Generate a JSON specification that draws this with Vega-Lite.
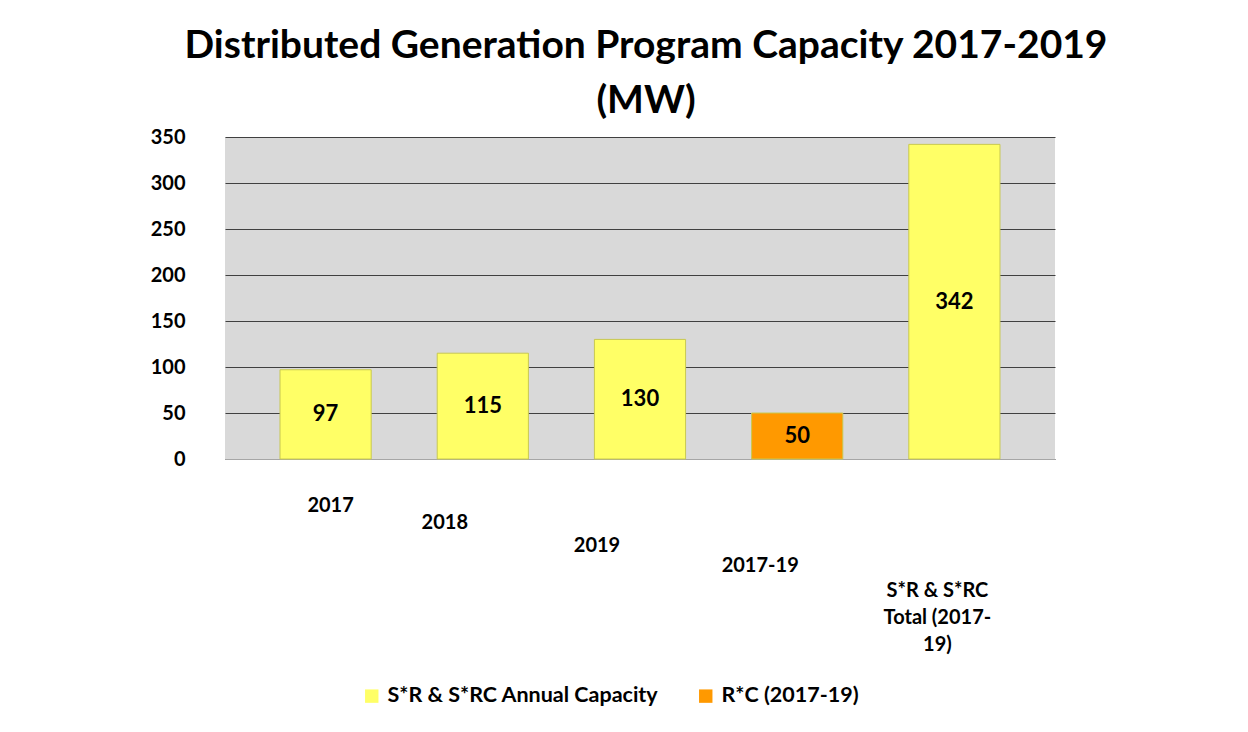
{
  "$schema": "https://vega.github.io/schema/vega-lite/v6.json",
  "width": 830,
  "height": 322,
  "padding": {"left": 150, "top": 27, "right": 20, "bottom": 10},
  "background": "white",
  "title": {
    "text": ["Distributed Generation Program Capacity 2017-2019", "(MW)"],
    "font": "Lato",
    "fontSize": 39,
    "fontWeight": "bold",
    "color": "black",
    "lineHeight": 55,
    "offset": 6,
    "anchor": "middle",
    "frame": "group",
    "dx": 6
  },
  "data": {
    "values": [
      {"category": "2017", "value": 97, "series": "S*R & S*RC Annual Capacity"},
      {"category": "2018", "value": 115, "series": "S*R & S*RC Annual Capacity"},
      {"category": "2019", "value": 130, "series": "S*R & S*RC Annual Capacity"},
      {"category": "2017-19", "value": 50, "series": "R*C (2017-19)"},
      {"category": "S*R & S*RC Total (2017-19)", "value": 342, "series": "S*R & S*RC Annual Capacity"}
    ]
  },
  "encoding": {
    "x": {
      "field": "category",
      "type": "nominal",
      "sort": null,
      "scale": {"paddingInner": 0.42, "paddingOuter": 0.35},
      "axis": {
        "title": null,
        "labelAngle": 0,
        "labelFont": "Lato",
        "labelFontSize": 20,
        "labelFontWeight": "bold",
        "labelColor": "black",
        "labelLineHeight": 27,
        "ticks": false,
        "domainColor": "#a6a6a6",
        "labelExpr": "datum.value == 'S*R & S*RC Total (2017-19)' ? ['S*R & S*RC', 'Total (2017-', '19)'] : datum.value",
        "labelPadding": {
          "condition": [
            {"test": "datum.value == '2018'", "value": 53},
            {"test": "datum.value == '2019'", "value": 76},
            {"test": "datum.value == '2017-19'", "value": 96},
            {"test": "datum.value == 'S*R & S*RC Total (2017-19)'", "value": 121}
          ],
          "value": 36
        },
        "labelOffset": {
          "condition": [
            {"test": "datum.value == '2017'", "value": 5},
            {"test": "datum.value == '2018'", "value": -38},
            {"test": "datum.value == '2019'", "value": -43},
            {"test": "datum.value == '2017-19'", "value": -37}
          ],
          "value": -17
        }
      }
    }
  },
  "layer": [
    {
      "mark": {"type": "bar", "stroke": "#c8c850", "strokeWidth": 1},
      "encoding": {
        "y": {
          "field": "value",
          "type": "quantitative",
          "scale": {"domain": [0, 350]},
          "axis": {
            "title": null,
            "values": [0, 50, 100, 150, 200, 250, 300, 350],
            "labelFont": "Lato",
            "labelFontSize": 20,
            "labelFontWeight": "bold",
            "labelColor": "black",
            "labelPadding": 40,
            "ticks": false,
            "domain": false,
            "gridColor": "#404040",
            "gridWidth": 1.2
          }
        },
        "color": {
          "field": "series",
          "type": "nominal",
          "scale": {
            "domain": ["S*R & S*RC Annual Capacity", "R*C (2017-19)"],
            "range": ["#ffff66", "#ff9900"]
          },
          "legend": {
            "title": null,
            "orient": "none",
            "legendX": 136,
            "legendY": 548,
            "direction": "horizontal",
            "symbolType": "square",
            "symbolSize": 180,
            "symbolStrokeWidth": 0,
            "labelFont": "Lato",
            "labelFontSize": 21.5,
            "labelFontWeight": "bold",
            "labelColor": "black",
            "labelOffset": 5,
            "columnPadding": 36,
            "labelLimit": 400
          }
        }
      }
    },
    {
      "mark": {"type": "text", "font": "Lato", "fontSize": 22, "fontWeight": "bold", "color": "black", "baseline": "middle"},
      "encoding": {
        "y": {"field": "value", "type": "quantitative", "scale": {"domain": [0, 700]}, "axis": null},
        "text": {"field": "value", "type": "quantitative"}
      }
    }
  ],
  "resolve": {"scale": {"y": "independent"}},
  "config": {
    "view": {"fill": "#d9d9d9", "stroke": null}
  }
}
